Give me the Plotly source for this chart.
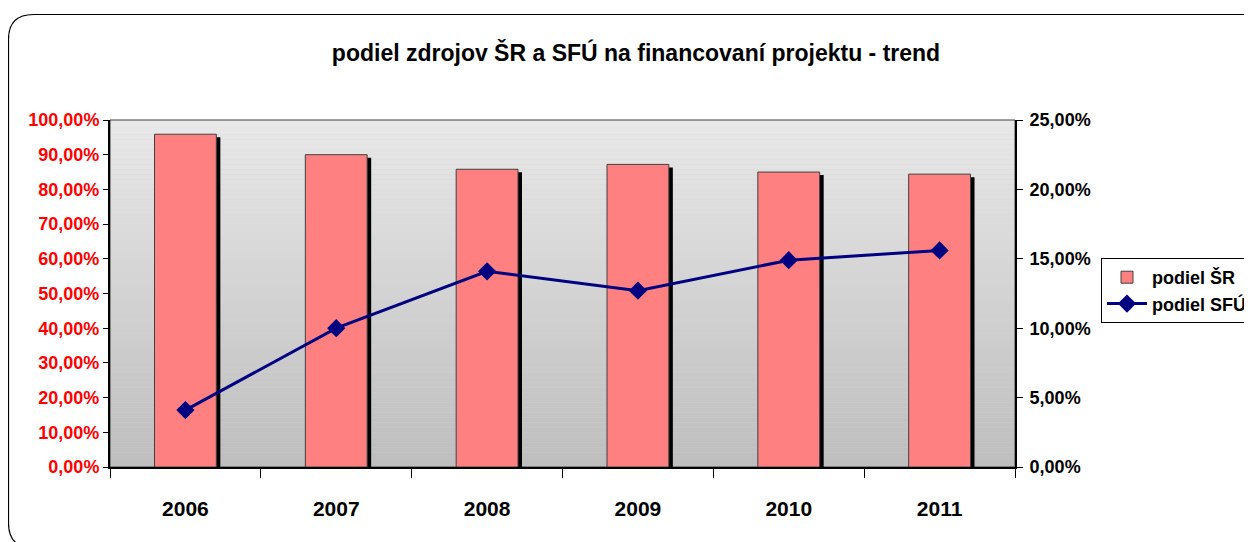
import plotly.graph_objects as go

# ---------------------------------------------------------------------------
# data
# ---------------------------------------------------------------------------
years = ["2006", "2007", "2008", "2009", "2010", "2011"]
podiel_sr = [95.9, 90.0, 85.8, 87.2, 85.0, 84.4]      # %, left axis
podiel_sfu = [4.1, 10.0, 14.1, 12.7, 14.9, 15.6]      # %, right axis

left_tickvals = [0, 10, 20, 30, 40, 50, 60, 70, 80, 90, 100]
left_ticktext = ["0,00%", "10,00%", "20,00%", "30,00%", "40,00%", "50,00%",
                 "60,00%", "70,00%", "80,00%", "90,00%", "100,00%"]
right_tickvals = [0, 5, 10, 15, 20, 25]
right_ticktext = ["0,00%", "5,00%", "10,00%", "15,00%", "20,00%", "25,00%"]

title_text = "podiel zdrojov ŠR a SFÚ na financovaní projektu - trend"

# ---------------------------------------------------------------------------
# layout constants (page pixels; the page body adds an 8 px margin)
# ---------------------------------------------------------------------------
OFF = 8
W, H = 1252 - OFF, 542 - OFF
PL, PR, PT, PB = 110 - OFF, 1015 - OFF, 120 - OFF, 467 - OFF

BAR_W = 0.41
SHADOW_DX = 4 / ((PR - PL) / len(years))     # 4 px to the right
SHADOW_DY = 3 / (PB - PT) * 100              # 3 px down (left-axis units)

FONT = "Liberation Sans, Arial, sans-serif"


def _px(x):
    """page x pixel -> paper coordinate"""
    return (x - OFF - PL) / (PR - PL)


def _py(y):
    """page y pixel -> paper coordinate"""
    return (PB - (y - OFF)) / (PB - PT)


# gradient plot background
shapes = []
n_bands = 70
for i in range(n_bands):
    t = i / (n_bands - 1)
    c = round(232 - (232 - 190) * t)
    shapes.append(dict(
        type="rect", xref="x domain", yref="y domain",
        x0=0, x1=1, y0=1 - (i + 1) / n_bands, y1=1 - i / n_bands,
        fillcolor=f"rgb({c},{c},{c})", line_width=0, layer="below",
    ))
shapes.append(dict(
    type="rect", xref="x domain", yref="y domain",
    x0=0, x1=1, y0=0, y1=1, line=dict(color="#404040", width=1),
    fillcolor="rgba(0,0,0,0)", layer="below",
))

# rounded chart border (runs off the right / bottom edge)
L, T, R, B, r = 8.5, 14.5, 1300, 548, 25
border = (
    f"M {_px(R)},{_py(T)} L {_px(L + r)},{_py(T)} "
    f"Q {_px(L)},{_py(T)} {_px(L)},{_py(T + r)} "
    f"L {_px(L)},{_py(B - r)} "
    f"Q {_px(L)},{_py(B)} {_px(L + r)},{_py(B)} "
    f"L {_px(R)},{_py(B)}"
)
shapes.append(dict(type="path", xref="paper", yref="paper", path=border,
                   line=dict(color="black", width=1.2)))

# ---------------------------------------------------------------------------
# figure
# ---------------------------------------------------------------------------
fig = go.Figure()

fig.add_trace(go.Bar(
    x=years, y=podiel_sr,
    base=[-SHADOW_DY] * len(years),
    width=BAR_W, offset=-BAR_W / 2 + SHADOW_DX,
    marker=dict(color="black", line=dict(width=0)),
    showlegend=False, hoverinfo="skip",
))
fig.add_trace(go.Bar(
    x=years, y=podiel_sr,
    width=BAR_W, offset=-BAR_W / 2,
    marker=dict(color="#FF8080", line=dict(color="#404040", width=1)),
    name="podiel ŠR",
))
fig.add_trace(go.Scatter(
    x=years, y=podiel_sfu, yaxis="y2",
    mode="lines+markers",
    line=dict(color="#000080", width=3),
    marker=dict(symbol="diamond", size=14, color="#000080"),
    name="podiel SFÚ",
))

fig.update_layout(
    width=W, height=H,
    margin=dict(l=PL, r=W - PR, t=PT, b=H - PB, autoexpand=False),
    paper_bgcolor="white",
    plot_bgcolor="#d2d2d2",
    barmode="overlay",
    font=dict(family=FONT, color="black"),
    shapes=shapes,
    title=dict(
        text=title_text,
        font=dict(family=FONT, size=23, weight="bold", color="black"),
        xref="container", x=(636 - OFF) / W, xanchor="center",
        yref="container", y=1 - (53 - OFF) / H, yanchor="middle",
    ),
    legend=dict(
        x=_px(1101), y=_py(258), xanchor="left", yanchor="top",
        bgcolor="white", bordercolor="black", borderwidth=1,
        font=dict(family=FONT, size=18, weight="bold", color="black"),
        tracegroupgap=0, itemwidth=40,
    ),
    xaxis=dict(
        type="category", range=[-0.5, len(years) - 0.5],
        showgrid=False, zeroline=False,
        showline=True, linecolor="black", linewidth=2,
        ticks="outside", tickson="boundaries", ticklen=9,
        tickcolor="black", tickwidth=1,
        tickfont=dict(family=FONT, size=21, weight="bold", color="black"),
        ticklabelstandoff=22,
    ),
    yaxis=dict(
        range=[0, 100], tickvals=left_tickvals, ticktext=left_ticktext,
        showgrid=False, zeroline=False,
        showline=True, linecolor="black", linewidth=2,
        ticks="outside", ticklen=5, tickcolor="black", tickwidth=1,
        tickfont=dict(family=FONT, size=18, weight="bold", color="#FF0000"),
    ),
    yaxis2=dict(
        overlaying="y", side="right",
        range=[0, 25], tickvals=right_tickvals, ticktext=right_ticktext,
        showgrid=False, zeroline=False,
        showline=True, linecolor="black", linewidth=2,
        ticks="outside", ticklen=6, tickcolor="black", tickwidth=1,
        tickfont=dict(family=FONT, size=18, weight="bold", color="black"),
        ticklabelstandoff=3,
    ),
)

fig.write_html("out.html")
